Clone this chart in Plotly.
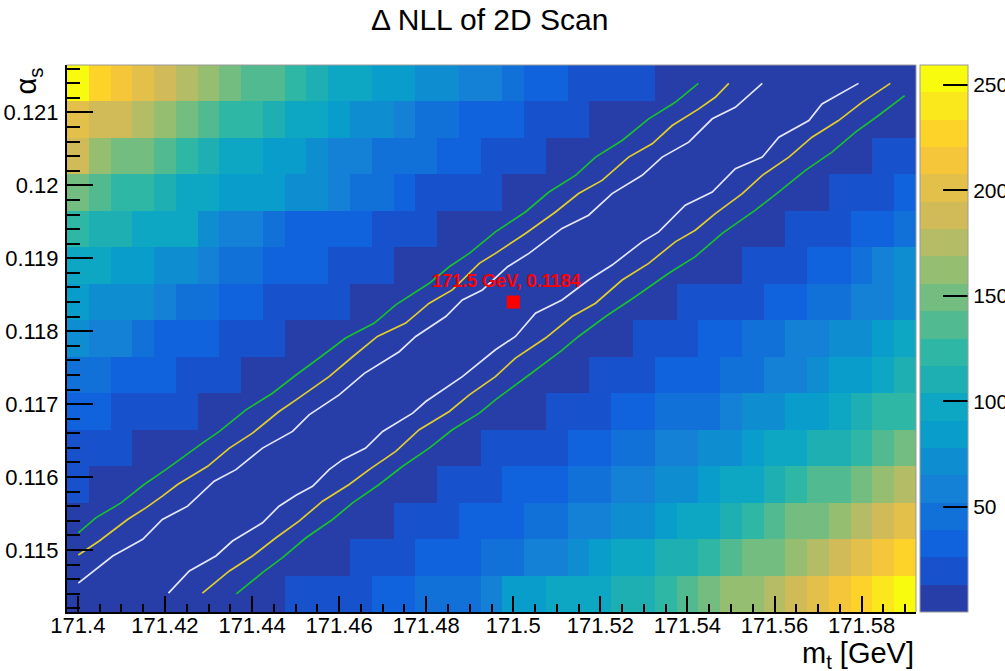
import plotly.graph_objects as go

# ---------------- data ----------------
mt_bins = [171.400, 171.405, 171.410, 171.415, 171.420, 171.425, 171.430, 171.435,
           171.440, 171.445, 171.450, 171.455, 171.460, 171.465, 171.470, 171.475,
           171.480, 171.485, 171.490, 171.495, 171.500, 171.505, 171.510, 171.515,
           171.520, 171.525, 171.530, 171.535, 171.540, 171.545, 171.550, 171.555,
           171.560, 171.565, 171.570, 171.575, 171.580, 171.585, 171.590]

# alpha_s bin centres, top row first
as_bins = [0.1214, 0.1209, 0.1204, 0.1199, 0.1194, 0.1189, 0.1184, 0.1179,
           0.1174, 0.1169, 0.1164, 0.1159, 0.1154, 0.1149, 0.1144]

# Delta NLL per alpha_s row, left -> right in m_t
nll_01214 = [253, 227, 214, 201, 188, 175, 162, 149, 136, 136, 123, 110, 97, 97, 84, 84, 71, 71, 58, 58,
             45, 32, 32, 19, 19, 19, 19, 6, 6, 6, 6, 6, 6, 6, 6, 6, 6, 6, 6]
nll_01209 = [201, 188, 188, 175, 162, 149, 136, 123, 123, 110, 97, 97, 84, 71, 71, 58, 45, 45, 32, 32,
             32, 19, 19, 19, 6, 6, 6, 6, 6, 6, 6, 6, 6, 6, 6, 6, 6, 6, 6]
nll_01204 = [188, 162, 149, 149, 136, 123, 110, 97, 97, 84, 84, 71, 58, 58, 45, 45, 45, 32, 32, 19,
             19, 19, 6, 6, 6, 6, 6, 6, 6, 6, 6, 6, 6, 6, 6, 6, 6, 19, 19]
nll_01199 = [149, 136, 123, 123, 110, 97, 97, 84, 84, 84, 71, 71, 58, 45, 45, 32, 19, 19, 19, 19,
             6, 6, 6, 6, 6, 6, 6, 6, 6, 6, 6, 6, 6, 6, 6, 19, 19, 19, 32]
nll_01194 = [123, 110, 110, 97, 97, 97, 71, 58, 58, 45, 32, 32, 32, 32, 19, 19, 19, 6, 6, 6,
             6, 6, 6, 6, 6, 6, 6, 6, 6, 6, 6, 6, 6, 19, 19, 19, 32, 32, 45]
nll_01189 = [97, 97, 84, 84, 71, 71, 58, 45, 45, 32, 32, 32, 19, 19, 19, 6, 6, 6, 6, 6,
             6, 6, 6, 6, 6, 6, 6, 6, 6, 6, 6, 19, 19, 19, 32, 32, 45, 58, 71]
nll_01184 = [84, 71, 71, 71, 58, 45, 45, 32, 32, 19, 19, 19, 19, 6, 6, 6, 6, 6, 6, 6,
             6, 6, 6, 6, 6, 6, 6, 6, 19, 19, 19, 19, 32, 32, 45, 45, 58, 58, 71]
nll_01179 = [71, 58, 58, 45, 32, 32, 32, 19, 19, 19, 6, 6, 6, 6, 6, 6, 6, 6, 6, 6,
             6, 6, 6, 6, 6, 6, 19, 19, 19, 32, 32, 45, 45, 58, 58, 71, 71, 84, 97]
nll_01174 = [45, 45, 32, 32, 32, 19, 19, 19, 6, 6, 6, 6, 6, 6, 6, 6, 6, 6, 6, 6,
             6, 6, 6, 6, 19, 19, 19, 32, 32, 32, 45, 45, 58, 58, 71, 84, 84, 97, 110]
nll_01169 = [32, 32, 19, 19, 19, 19, 6, 6, 6, 6, 6, 6, 6, 6, 6, 6, 6, 6, 6, 6,
             6, 6, 19, 19, 19, 32, 32, 45, 45, 45, 58, 71, 71, 84, 84, 97, 110, 123, 123]
nll_01164 = [19, 19, 19, 6, 6, 6, 6, 6, 6, 6, 6, 6, 6, 6, 6, 6, 6, 6, 6, 19,
             19, 19, 19, 32, 32, 45, 45, 58, 58, 71, 71, 84, 97, 97, 110, 110, 123, 136, 149]
nll_01159 = [19, 6, 6, 6, 6, 6, 6, 6, 6, 6, 6, 6, 6, 6, 6, 6, 6, 19, 19, 19,
             32, 32, 32, 45, 45, 58, 58, 71, 71, 84, 97, 97, 110, 123, 136, 136, 149, 162, 175]
nll_01154 = [6, 6, 6, 6, 6, 6, 6, 6, 6, 6, 6, 6, 6, 6, 6, 19, 19, 19, 32, 32,
             32, 45, 45, 58, 58, 71, 71, 84, 97, 97, 110, 123, 136, 149, 149, 162, 175, 188, 201]
nll_01149 = [6, 6, 6, 6, 6, 6, 6, 6, 6, 6, 6, 6, 6, 19, 19, 19, 32, 32, 32, 45,
             45, 58, 58, 71, 84, 97, 97, 110, 110, 123, 136, 149, 149, 162, 175, 188, 201, 214, 227]
nll_01144 = [6, 6, 6, 6, 6, 6, 6, 6, 6, 6, 19, 19, 19, 19, 32, 32, 45, 45, 45, 58,
             84, 84, 97, 97, 97, 110, 110, 123, 136, 149, 162, 162, 175, 188, 201, 214, 227, 240, 253]

nll_rows = [nll_01214, nll_01209, nll_01204, nll_01199, nll_01194, nll_01189, nll_01184,
            nll_01179, nll_01174, nll_01169, nll_01164, nll_01159, nll_01154, nll_01149, nll_01144]

# contour lines (m_t, alpha_s)
white_l_mt = [171.4001, 171.4080, 171.4149, 171.4194, 171.4252, 171.4313, 171.4363, 171.4424,
              171.4493, 171.4531, 171.4600, 171.4658, 171.4738, 171.4776, 171.4845, 171.4883,
              171.4929, 171.4987, 171.5036, 171.5112, 171.5173, 171.5227, 171.5296, 171.5342,
              171.5403, 171.5457, 171.5510, 171.5572]
white_l_as = [0.114545, 0.114918, 0.115146, 0.115419, 0.115601, 0.115943, 0.116102, 0.116397,
              0.116626, 0.116854, 0.117127, 0.117422, 0.117719, 0.117928, 0.118201, 0.118429,
              0.118566, 0.118884, 0.119067, 0.119409, 0.119590, 0.119887, 0.120137, 0.120387,
              0.120592, 0.120912, 0.121070, 0.121398]
white_r_mt = [171.4208, 171.4256, 171.4317, 171.4355, 171.4424, 171.4462, 171.4501, 171.4539,
              171.4577, 171.4608, 171.4661, 171.4700, 171.4769, 171.4799, 171.4883, 171.4959,
              171.5005, 171.5051, 171.5112, 171.5173, 171.5227, 171.5296, 171.5334, 171.5395,
              171.5457, 171.5510, 171.5572, 171.5610, 171.5679, 171.5709, 171.5793]
white_r_as = [0.114408, 0.114713, 0.114918, 0.115123, 0.115373, 0.115601, 0.115751, 0.115874,
              0.116102, 0.116239, 0.116397, 0.116626, 0.116876, 0.117036, 0.117377, 0.117746,
              0.117928, 0.118247, 0.118429, 0.118702, 0.118907, 0.119225, 0.119362, 0.119727,
              0.119909, 0.120228, 0.120387, 0.120660, 0.120888, 0.121116, 0.121398]
yellow_l_mt = [171.4001, 171.4049, 171.4114, 171.4156, 171.4194, 171.4229, 171.4298, 171.4348,
               171.4401, 171.4462, 171.4501, 171.4577, 171.4631, 171.4688, 171.4753, 171.4807,
               171.4860, 171.4922, 171.4959, 171.5028, 171.5097, 171.5150, 171.5204, 171.5265,
               171.5319, 171.5365, 171.5426, 171.5464, 171.5495]
yellow_l_as = [0.114932, 0.115123, 0.115419, 0.115578, 0.115738, 0.115898, 0.116148, 0.116397,
               0.116602, 0.116899, 0.117059, 0.117377, 0.117650, 0.117928, 0.118111, 0.118384,
               0.118566, 0.118930, 0.119067, 0.119340, 0.119635, 0.119887, 0.120068, 0.120387,
               0.120570, 0.120820, 0.121048, 0.121207, 0.121398]
yellow_r_mt = [171.4286, 171.4348, 171.4401, 171.4455, 171.4508, 171.4562, 171.4623, 171.4669,
               171.4730, 171.4784, 171.4853, 171.4899, 171.4959, 171.5005, 171.5074, 171.5135,
               171.5189, 171.5250, 171.5311, 171.5372, 171.5418, 171.5464, 171.5526, 171.5572,
               171.5633, 171.5686, 171.5747, 171.5801, 171.5866]
yellow_r_as = [0.114408, 0.114713, 0.114918, 0.115168, 0.115396, 0.115669, 0.115898, 0.116102,
               0.116352, 0.116649, 0.116899, 0.117127, 0.117377, 0.117632, 0.117906, 0.118201,
               0.118384, 0.118702, 0.118930, 0.119225, 0.119385, 0.119613, 0.119887, 0.120137,
               0.120387, 0.120660, 0.120888, 0.121138, 0.121398]
green_l_mt = [171.4001, 171.4041, 171.4099, 171.4152, 171.4202, 171.4248, 171.4286, 171.4325,
              171.4386, 171.4447, 171.4501, 171.4558, 171.4615, 171.4681, 171.4730, 171.4807,
              171.4853, 171.4899, 171.4959, 171.5028, 171.5082, 171.5143, 171.5189, 171.5250,
              171.5311, 171.5372, 171.5425]
green_l_as = [0.115236, 0.115441, 0.115646, 0.115898, 0.116102, 0.116307, 0.116466, 0.116626,
              0.116922, 0.117149, 0.117400, 0.117650, 0.117906, 0.118111, 0.118361, 0.118657,
              0.118884, 0.119067, 0.119362, 0.119635, 0.119909, 0.120137, 0.120387, 0.120615,
              0.120911, 0.121138, 0.121398]
green_r_mt = [171.4364, 171.4424, 171.4470, 171.4524, 171.4585, 171.4631, 171.4692, 171.4746,
              171.4807, 171.4860, 171.4922, 171.4959, 171.5036, 171.5108, 171.5150, 171.5212,
              171.5281, 171.5357, 171.5418, 171.5480, 171.5556, 171.5610, 171.5671, 171.5732,
              171.5786, 171.5839, 171.5899]
green_r_as = [0.114398, 0.114690, 0.114895, 0.115168, 0.115419, 0.115646, 0.115898, 0.116148,
              0.116397, 0.116649, 0.116876, 0.117059, 0.117400, 0.117719, 0.117928, 0.118201,
              0.118475, 0.118794, 0.119023, 0.119342, 0.119660, 0.119910, 0.120206, 0.120456,
              0.120729, 0.120957, 0.121230]

best_mt = 171.5
best_as = 0.1184

mt_ticks = [171.40, 171.42, 171.44, 171.46, 171.48, 171.50, 171.52, 171.54, 171.56, 171.58]
mt_tick_labels = ["171.4", "171.42", "171.44", "171.46", "171.48", "171.5", "171.52", "171.54",
                  "171.56", "171.58"]
as_ticks = [0.115, 0.116, 0.117, 0.118, 0.119, 0.120, 0.121]
as_tick_labels = ["0.115", "0.116", "0.117", "0.118", "0.119", "0.12", "0.121"]
cbar_ticks = [50, 100, 150, 200, 250]

# ---------------- style ----------------
z_lo, z_hi = 0.0, 259.5
n_levels = 20
bird_stops = [0.0, 0.125, 0.25, 0.375, 0.5, 0.625, 0.75, 0.875, 1.0]
bird_r = [0.2082, 0.0592, 0.0780, 0.0232, 0.1802, 0.5301, 0.8186, 0.9956, 0.9764]
bird_g = [0.1664, 0.3599, 0.5041, 0.6419, 0.7178, 0.7492, 0.7328, 0.7862, 0.9832]
bird_b = [0.5293, 0.8684, 0.8385, 0.7914, 0.6425, 0.4662, 0.3499, 0.1968, 0.0539]


def bird(f):
    for k in range(len(bird_stops) - 1):
        if f <= bird_stops[k + 1]:
            t = (f - bird_stops[k]) / (bird_stops[k + 1] - bird_stops[k])
            r = bird_r[k] + t * (bird_r[k + 1] - bird_r[k])
            g = bird_g[k] + t * (bird_g[k + 1] - bird_g[k])
            b = bird_b[k] + t * (bird_b[k + 1] - bird_b[k])
            return "rgb(%d,%d,%d)" % (round(r * 255), round(g * 255), round(b * 255))
    return "rgb(249,251,14)"


colorscale = []
for i in range(n_levels):
    idx = int((i + 0.99) * 255 / n_levels)
    c = bird(idx / 254.0)
    colorscale.append([i / n_levels, c])
    colorscale.append([(i + 1) / n_levels, c])

FONT = "Liberation Sans, Arial, Helvetica, sans-serif"

fig = go.Figure()
fig.add_trace(go.Heatmap(
    x=mt_bins, y=as_bins[::-1], z=nll_rows[::-1],
    zmin=z_lo, zmax=z_hi, colorscale=colorscale, hoverinfo="skip",
    colorbar=dict(
        x=1.0047, xanchor="left", xpad=0, ypad=0,
        y=0.5, yanchor="middle", len=1, lenmode="fraction",
        thickness=48, thicknessmode="pixels",
        outlinewidth=1, outlinecolor="#9a9a9a",
        tickmode="array", tickvals=cbar_ticks,
        ticks="inside", ticklen=25, tickwidth=1.5, tickcolor="black",
        tickfont=dict(size=21, family=FONT, color="black"),
    ),
))

line_specs = [
    (green_l_mt, green_l_as, "#17c22b"), (green_r_mt, green_r_as, "#17c22b"),
    (yellow_l_mt, yellow_l_as, "#e2cf2a"), (yellow_r_mt, yellow_r_as, "#e2cf2a"),
    (white_l_mt, white_l_as, "#e4e6f4"), (white_r_mt, white_r_as, "#e4e6f4"),
]
for xs, ys, col in line_specs:
    fig.add_trace(go.Scatter(x=xs, y=ys, mode="lines", line=dict(color=col, width=1.7),
                             hoverinfo="skip", showlegend=False))

fig.add_trace(go.Scatter(x=[best_mt], y=[best_as], mode="markers",
                         marker=dict(symbol="square", size=13, color="#ff0000"),
                         hoverinfo="skip", showlegend=False))

fig.add_annotation(x=best_mt, y=best_as, xref="x", yref="y",
                   text="<b>%s GeV, %s</b>" % (best_mt, best_as), showarrow=False,
                   xshift=-7, yshift=21, font=dict(size=18, color="#ff0000", family=FONT))

fig.add_annotation(x=0.498, y=1.084, xref="paper", yref="paper", showarrow=False,
                   text="Δ NLL of 2D Scan", font=dict(size=30, family=FONT, color="black"),
                   xanchor="center", yanchor="middle")
fig.add_annotation(x=1.0, y=-0.079, xref="paper", yref="paper", showarrow=False,
                   text="m<sub>t</sub> [GeV]", font=dict(size=29, family=FONT, color="black"),
                   xanchor="right", yanchor="middle")
fig.add_annotation(x=-0.046, y=1.0, xref="paper", yref="paper", showarrow=False,
                   text="α<sub>s</sub>", textangle=-90,
                   font=dict(size=29, family=FONT, color="black"),
                   xanchor="center", yanchor="top")

fig.add_shape(type="line", xref="paper", yref="paper", x0=0, x1=1, y0=1, y1=1,
              line=dict(color="#9a9a9a", width=1))
fig.add_shape(type="line", xref="paper", yref="paper", x0=1, x1=1, y0=0, y1=1,
              line=dict(color="#9a9a9a", width=1))

fig.update_xaxes(range=[171.3975, 171.5925], tickmode="array", tickvals=mt_ticks,
                 ticktext=mt_tick_labels, ticks="inside", ticklen=16, tickwidth=1.5,
                 tickcolor="black", showline=True, linecolor="black", linewidth=2,
                 showgrid=False, zeroline=False, automargin=False,
                 ticklabelstandoff=-7,
                 tickfont=dict(size=22, family=FONT, color="black"),
                 minor=dict(ticks="inside", ticklen=8, tickwidth=1.5, tickcolor="black",
                            tick0=171.4, dtick=0.005, showgrid=False))
fig.update_yaxes(range=[0.11415, 0.12165], tickmode="array", tickvals=as_ticks,
                 ticktext=as_tick_labels, ticks="inside", ticklen=26, tickwidth=1.5,
                 tickcolor="black", showline=True, linecolor="black", linewidth=2,
                 showgrid=False, zeroline=False, automargin=False,
                 ticklabelstandoff=2,
                 tickfont=dict(size=22, family=FONT, color="black"),
                 minor=dict(ticks="inside", ticklen=13, tickwidth=1.5, tickcolor="black",
                            tick0=0.115, dtick=0.0002, showgrid=False))

fig.update_layout(width=1005, height=671,
                  margin=dict(l=67, r=89, t=65, b=59, autoexpand=False),
                  paper_bgcolor="white", plot_bgcolor="white", showlegend=False,
                  font=dict(family=FONT, color="black"))

# remove the browser's default 8 px body margin so the figure sits at the page origin
fig.write_html("out.html", config={"displayModeBar": False},
               post_script="document.body.style.margin='0';")
